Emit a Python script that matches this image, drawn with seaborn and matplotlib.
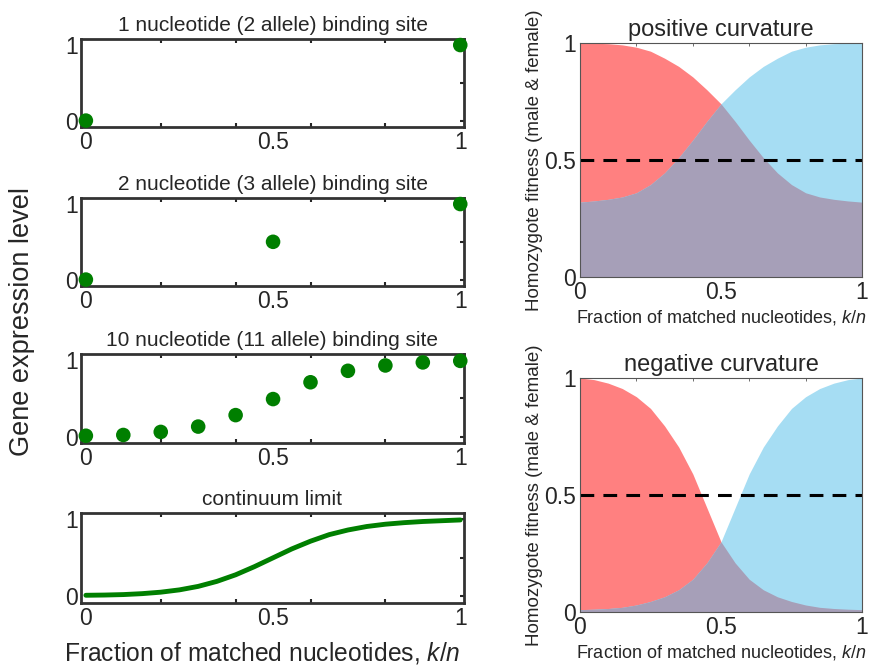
import numpy as np
import pandas as pd
import matplotlib.pyplot as plt
import seaborn as sns
from matplotlib.ticker import MultipleLocator

sns.set_style("white")
plt.rcParams['font.family'] = ['Liberation Sans', 'DejaVu Sans']
plt.rcParams['mathtext.fontset'] = 'custom'
plt.rcParams['mathtext.rm'] = 'Liberation Sans'
plt.rcParams['mathtext.it'] = 'Liberation Sans:italic'

# --- data ---
x1 = [0, 1]
y1 = [0, 1]
x2 = [0, 0.5, 1]
y2 = [0, 0.5, 1]
x10 = [0, 0.1, 0.2, 0.3, 0.4, 0.5, 0.6, 0.7, 0.8, 0.9, 1.0]
y10 = [0.01, 0.02, 0.06, 0.13, 0.28, 0.49, 0.71, 0.86, 0.93, 0.97, 0.99]

xc = [0, 0.05, 0.1, 0.15, 0.2, 0.25, 0.3, 0.35, 0.4, 0.45, 0.5,
      0.55, 0.6, 0.65, 0.7, 0.75, 0.8, 0.85, 0.9, 0.95, 1.0]
yc = [0.015, 0.018, 0.024, 0.036, 0.055, 0.085, 0.13, 0.195, 0.28, 0.385, 0.50,
      0.615, 0.715, 0.80, 0.86, 0.905, 0.935, 0.955, 0.97, 0.98, 0.99]

red_pos = [1.0, 0.999, 0.997, 0.992, 0.982, 0.965, 0.935, 0.90, 0.855, 0.80, 0.74,
           0.665, 0.585, 0.51, 0.445, 0.395, 0.36, 0.342, 0.332, 0.325, 0.32]
blue_pos = [0.32, 0.325, 0.332, 0.342, 0.36, 0.395, 0.445, 0.51, 0.585, 0.665, 0.74,
            0.80, 0.855, 0.90, 0.935, 0.965, 0.982, 0.992, 0.997, 0.999, 1.0]
red_neg = [1.0, 0.993, 0.978, 0.955, 0.92, 0.87, 0.795, 0.705, 0.59, 0.445, 0.30,
           0.21, 0.14, 0.095, 0.065, 0.045, 0.03, 0.02, 0.015, 0.012, 0.01]
blue_neg = [0.01, 0.012, 0.015, 0.02, 0.03, 0.045, 0.065, 0.095, 0.14, 0.21, 0.30,
            0.445, 0.59, 0.705, 0.795, 0.87, 0.92, 0.955, 0.978, 0.993, 1.0]

titles = ["1 nucleotide (2 allele) binding site",
          "2 nucleotide (3 allele) binding site",
          "10 nucleotide (11 allele) binding site",
          "continuum limit"]

GREEN = "#007F00"
RED = "#FF8080"
BLUE = "#A6DDF3"
MIX = "#A69FB8"

W, H = 874, 666
fig = plt.figure(figsize=(W / 100, H / 100), dpi=100)


def box(left, top, right, bottom):
    return [left / W, 1 - bottom / H, (right - left) / W, (bottom - top) / H]


def style_left(ax, title):
    ax.set_xlim(-0.013, 1.01)
    ax.set_ylim(-0.085, 1.08)
    ax.set_xticks([0, 0.5, 1])
    ax.set_xticklabels(["0", "0.5", "1"])
    ax.set_yticks([0, 0.5, 1])
    ax.set_yticklabels(["0", "", "1"])
    ax.xaxis.set_minor_locator(MultipleLocator(0.2))
    ax.tick_params(which="major", axis="x", length=0, labelsize=16.5, pad=3)
    ax.tick_params(which="major", axis="y", direction="in", length=3, width=1.5,
                   right=True, labelsize=16.5, pad=2)
    ax.tick_params(which="minor", axis="x", direction="in", length=3, width=1.5,
                   top=True, bottom=True)
    for s in ax.spines.values():
        s.set_linewidth(2)
        s.set_color("#333333")
    ax.set_title(title, fontsize=15, pad=6)
    ax.set_xlabel("")
    ax.set_ylabel("")


left_boxes = [(81, 39, 464, 127), (81, 198, 464, 286),
              (81, 354, 464, 443), (81, 513, 464, 603)]
axes_left = [fig.add_axes(box(*b)) for b in left_boxes]

for ax, (xs, ys) in zip(axes_left[:3], [(x1, y1), (x2, y2), (x10, y10)]):
    sns.scatterplot(x=xs, y=ys, ax=ax, color=GREEN, s=110, edgecolor="none",
                    clip_on=False, zorder=3)
sns.lineplot(x=xc, y=yc, ax=axes_left[3], color=GREEN, linewidth=3.5)
axes_left[3].lines[0].set_solid_joinstyle("round")

for ax, t in zip(axes_left, titles):
    style_left(ax, t)

fig.text(0.025, 0.518, "Gene expression level", rotation=90, fontsize=19.5,
         ha="center", va="center")
fig.text(0.30, 0.008, "Fraction of matched nucleotides, $\\it{k/n}$", fontsize=17.7,
         ha="center", va="baseline")

# --- right panels ---
right_boxes = [(580, 43, 862, 277), (580, 378, 862, 612)]
right_data = [("positive curvature", red_pos, blue_pos),
              ("negative curvature", red_neg, blue_neg)]

for b, (title, red, blue) in zip(right_boxes, right_data):
    ax = fig.add_axes(box(*b))
    xr = np.array(xc)
    r = np.array(red)
    bl = np.array(blue)
    ax.fill_between(xr, 0, r, color=RED, linewidth=0)
    ax.fill_between(xr, 0, bl, color=BLUE, linewidth=0)
    ax.fill_between(xr, 0, np.minimum(r, bl), color=MIX, linewidth=0)
    sns.lineplot(x=[0, 1], y=[0.5, 0.5], ax=ax, color="black", linewidth=2.2,
                 linestyle=(0, (4.5, 3)))
    ax.set_xlim(0, 1)
    ax.set_ylim(0, 1)
    ax.set_xticks([0, 0.5, 1])
    ax.set_xticklabels(["0", "0.5", "1"])
    ax.set_yticks([0, 0.5, 1])
    ax.set_yticklabels(["0", "0.5", "1"])
    ax.xaxis.set_minor_locator(MultipleLocator(0.2))
    ax.yaxis.set_minor_locator(MultipleLocator(0.2))
    ax.tick_params(which="major", length=0, labelsize=16.5, pad=3)
    ax.tick_params(which="minor", direction="in", length=2.5, width=0.6,
                   top=True, right=True, color="#555555")
    for s in ax.spines.values():
        s.set_linewidth(0.8)
        s.set_color("#555555")
    ax.set_title(title, fontsize=17, pad=5)
    ax.set_xlabel("Fraction of matched nucleotides, $\\it{k/n}$", fontsize=13,
                  labelpad=3)
    ax.set_ylabel("Homozygote fitness (male & female)", fontsize=13.5, labelpad=1)

fig.savefig("out.png", dpi=100)
